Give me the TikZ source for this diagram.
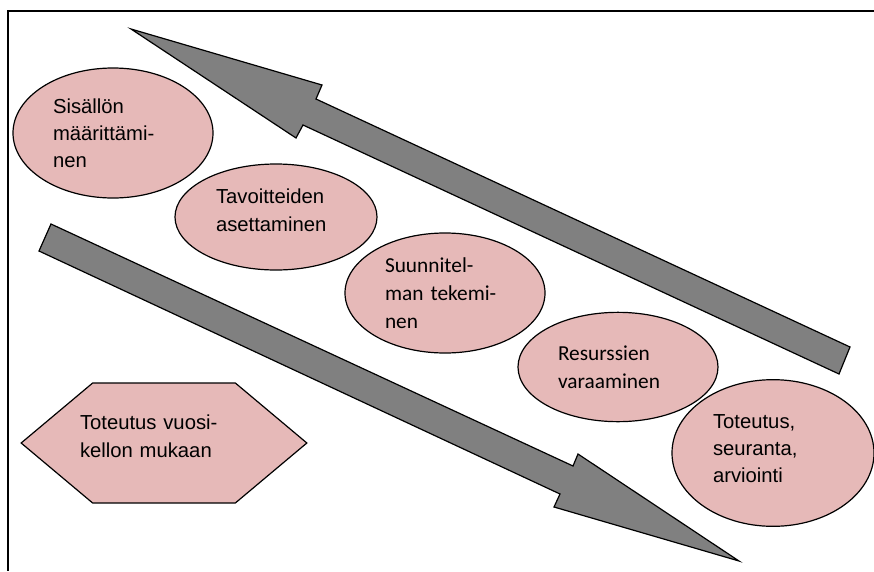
\documentclass[tikz,border=0pt]{standalone}
\usepackage{fontspec}
\setmainfont{Liberation Sans}
\newfontfamily\calibri{Carlito}
\usetikzlibrary{shapes.geometric,shapes.symbols}
\definecolor{rose}{HTML}{E6B9B8}
\definecolor{arrowgray}{HTML}{808080}

\begin{document}
\begin{tikzpicture}[x=0.75pt,y=-0.75pt,
  oval/.style={ellipse,draw,fill=rose,line width=0.9pt,inner sep=0pt,
    text width=90pt,align=left,font=\fontsize{15.2}{20.3}\selectfont},
  ovalc/.style={oval,font=\calibri\fontsize{16}{21}\selectfont},
  hexbox/.style={signal,signal to=east and west,signal pointer angle=80,
    draw,fill=rose,line width=0.9pt,inner ysep=0pt,inner xsep=-9.5pt,
    text width=126pt,align=left,minimum height=90pt,
    font=\fontsize{15.2}{20.3}\selectfont},
  bigarrow/.style={draw,fill=arrowgray,line width=0.9pt,line join=miter}]
  \useasboundingbox (0,0) rectangle (874,571);

  \draw[line width=1.5pt] (874,11) -- (8,11) -- (8,571);

  \draw[bigarrow] (131,29) -- (322,85) -- (316,99) -- (850,347) -- (839,374)
    -- (303,125) -- (296,138) -- cycle;
  \draw[bigarrow] (51,224) -- (573,466) -- (578,454) -- (739,561) -- (554,507)
    -- (560,494) -- (39,251) -- cycle;

  \node[oval,minimum width=150pt,minimum height=97.5pt] (sisalto) at (113,133)
    {Sisällön\\määrittämi-\\nen};
  \node[oval,minimum width=151.5pt,minimum height=79.5pt] (tavoite) at (276,217)
    {Tavoitteiden\\asettaminen\\[-10pt]\mbox{}};
  \node[ovalc,minimum width=150pt,minimum height=90pt] (suunnitelma) at (445,293)
    {Suunnitel-\\man tekemi-\\nen};
  \node[ovalc,minimum width=150pt,minimum height=82pt] (resurssit) at (618,367)
    {Resurssien\\varaaminen};
  \node[oval,minimum width=151.5pt,minimum height=110pt] (toteutus) at (773,453)
    {Toteutus,\\seuranta,\\arviointi\\[-14pt]\mbox{}};

  \node[hexbox] (vuosikello) at (164,443)
    {Toteutus vuosi-\\kellon mukaan\\[-10pt]\mbox{}};
\end{tikzpicture}
\end{document}
